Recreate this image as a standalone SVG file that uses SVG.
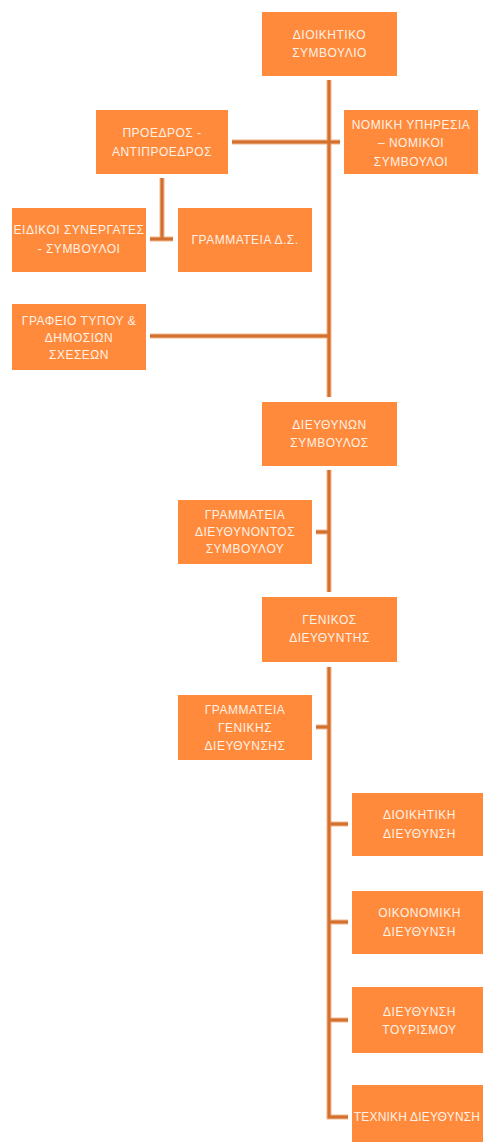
<svg xmlns="http://www.w3.org/2000/svg" width="483" height="1142" viewBox="0 0 483 1142">
<style>
.box{fill:#FF8A3B;}
.t{font-family:"Liberation Sans",Arial,sans-serif;font-size:12px;letter-spacing:0.5px;fill:#FFF1E6;text-anchor:middle;}
.halo{stroke:#F2B58C;stroke-width:5;fill:none;}
.ln{stroke:#D2712F;stroke-width:3;fill:none;}
</style>
<rect width="483" height="1142" fill="#FFFFFF"/>
<g id="connectors">
<g class="halo">
<path d="M329 80V397M232 142H340M162 178V240M150 239H173M150 336H329M329 470V592M316 532H329M329 667V1117H348M316 727H329M329 824H348M329 922H348M329 1020H348"/>
</g>
<g class="ln">
<path d="M329 80V397M232 142H340M162 178V240M150 239H173M150 336H329M329 470V592M316 532H329M329 667V1117H348M316 727H329M329 824H348M329 922H348M329 1020H348"/>
</g>
</g>
<g id="n1"><rect class="box" x="262" y="12" width="135" height="64"/><text class="t" x="329.5" y="39">ΔΙΟΙΚΗΤΙΚΟ</text><text class="t" x="329.5" y="57">ΣΥΜΒΟΥΛΙΟ</text></g>
<g id="n2"><rect class="box" x="96" y="110" width="132" height="64"/><text class="t" x="162" y="137">ΠΡΟΕΔΡΟΣ -</text><text class="t" x="162" y="156">ΑΝΤΙΠΡΟΕΔΡΟΣ</text></g>
<g id="n3"><rect class="box" x="344" y="110" width="134" height="64"/><text class="t" x="411" y="129">ΝΟΜΙΚΗ ΥΠΗΡΕΣΙΑ</text><text class="t" x="411" y="147">– ΝΟΜΙΚΟΙ</text><text class="t" x="411" y="166">ΣΥΜΒΟΥΛΟΙ</text></g>
<g id="n4"><rect class="box" x="12" y="208" width="134" height="64"/><text class="t" x="79" y="234">ΕΙΔΙΚΟΙ ΣΥΝΕΡΓΑΤΕΣ</text><text class="t" x="79" y="253">- ΣΥΜΒΟΥΛΟΙ</text></g>
<g id="n5"><rect class="box" x="178" y="208" width="134" height="64"/><text class="t" x="245" y="244">ΓΡΑΜΜΑΤΕΙΑ Δ.Σ.</text></g>
<g id="n6"><rect class="box" x="12" y="304" width="134" height="66"/><text class="t" x="79" y="325">ΓΡΑΦΕΙΟ ΤΥΠΟΥ &amp;</text><text class="t" x="79" y="342">ΔΗΜΟΣΙΩΝ</text><text class="t" x="79" y="359">ΣΧΕΣΕΩΝ</text></g>
<g id="n7"><rect class="box" x="262" y="402" width="135" height="64"/><text class="t" x="329.5" y="429">ΔΙΕΥΘΥΝΩΝ</text><text class="t" x="329.5" y="447">ΣΥΜΒΟΥΛΟΣ</text></g>
<g id="n8"><rect class="box" x="178" y="500" width="134" height="64"/><text class="t" x="245" y="519">ΓΡΑΜΜΑΤΕΙΑ</text><text class="t" x="245" y="536">ΔΙΕΥΘΥΝΟΝΤΟΣ</text><text class="t" x="245" y="553">ΣΥΜΒΟΥΛΟΥ</text></g>
<g id="n9"><rect class="box" x="262" y="597" width="135" height="65"/><text class="t" x="329.5" y="624">ΓΕΝΙΚΟΣ</text><text class="t" x="329.5" y="642">ΔΙΕΥΘΥΝΤΗΣ</text></g>
<g id="n10"><rect class="box" x="178" y="695" width="134" height="65"/><text class="t" x="245" y="714">ΓΡΑΜΜΑΤΕΙΑ</text><text class="t" x="245" y="732">ΓΕΝΙΚΗΣ</text><text class="t" x="245" y="750">ΔΙΕΥΘΥΝΣΗΣ</text></g>
<g id="n11"><rect class="box" x="352" y="793" width="135" height="63"/><text class="t" x="419.5" y="819">ΔΙΟΙΚΗΤΙΚΗ</text><text class="t" x="419.5" y="838">ΔΙΕΥΘΥΝΣΗ</text></g>
<g id="n12"><rect class="box" x="352" y="891" width="135" height="63"/><text class="t" x="419.5" y="917">ΟΙΚΟΝΟΜΙΚΗ</text><text class="t" x="419.5" y="936">ΔΙΕΥΘΥΝΣΗ</text></g>
<g id="n13"><rect class="box" x="352" y="987" width="135" height="66"/><text class="t" x="419.5" y="1016">ΔΙΕΥΘΥΝΣΗ</text><text class="t" x="419.5" y="1034">ΤΟΥΡΙΣΜΟΥ</text></g>
<g id="n14"><rect class="box" x="352" y="1085" width="135" height="64"/><text class="t" x="417" y="1121" style="letter-spacing:0.2px">ΤΕΧΝΙΚΗ ΔΙΕΥΘΥΝΣΗ</text></g>
</svg>
